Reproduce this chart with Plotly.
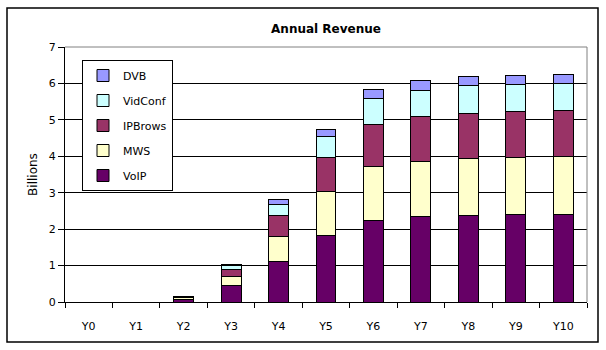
import plotly.graph_objects as go

categories = ["Y0", "Y1", "Y2", "Y3", "Y4", "Y5", "Y6", "Y7", "Y8", "Y9", "Y10"]
voip     = [0, 0, 0.08, 0.46, 1.12, 1.83, 2.24, 2.35, 2.38, 2.40, 2.41]
mws      = [0, 0, 0.03, 0.245, 0.68, 1.21, 1.48, 1.51, 1.56, 1.57, 1.58]
ipbrows  = [0, 0, 0.02, 0.195, 0.58, 0.93, 1.16, 1.24, 1.24, 1.26, 1.26]
vidconf  = [0, 0, 0.01, 0.10, 0.30, 0.58, 0.71, 0.71, 0.77, 0.75, 0.75]
dvb      = [0, 0, 0.01, 0.035, 0.14, 0.19, 0.25, 0.27, 0.25, 0.24, 0.25]
yticks = [0, 1, 2, 3, 4, 5, 6, 7]

series = [
    ("VoIP", voip, "#660066"),
    ("MWS", mws, "#FFFFCC"),
    ("IPBrows", ipbrows, "#993366"),
    ("VidConf", vidconf, "#CCFFFF"),
    ("DVB", dvb, "#9999FF"),
]

FONT = "DejaVu Sans"
fig = go.Figure()
n = len(series)
for i, (name, vals, col) in enumerate(series):
    fig.add_trace(go.Bar(
        x=categories, y=vals, name=name, legendgroup=name,
        legendrank=1000 + (n - i),
        marker=dict(color=col, line=dict(color="black", width=1)),
    ))

L, R, T, B = 65, 19, 47, 48
W, H = 606, 350
pw, ph = W - L - R, H - T - B

def px(x):
    return (x - L) / pw

def py(y):
    return (H - B - y) / ph

fig.update_layout(
    width=W, height=H,
    margin=dict(l=L, r=R, t=T, b=B),
    barmode="stack", bargap=0.58,
    plot_bgcolor="white", paper_bgcolor="white",
    font=dict(family=FONT, size=11, color="black"),
    title=dict(text="<b>Annual Revenue</b>", x=0.5, xref="paper", xanchor="center",
               y=1 - 29 / H, yref="container", yanchor="middle",
               font=dict(family=FONT, size=12, color="black")),
    showlegend=True,
    legend=dict(traceorder="grouped", x=px(82), y=py(60), xanchor="left", yanchor="top",
                bgcolor="white", bordercolor="black", borderwidth=1,
                font=dict(family=FONT, size=11), tracegroupgap=6,
                itemwidth=30),
    xaxis=dict(showline=True, linecolor="black", linewidth=1, ticks="outside",
               tickson="boundaries", ticklen=5, tickcolor="black",
               showgrid=False, fixedrange=True, ticklabelstandoff=14),
    yaxis=dict(range=[0, 7], tickvals=yticks, showline=True, linecolor="black",
               linewidth=1, ticks="outside", ticklen=6, tickcolor="black",
               showgrid=True, gridcolor="black", gridwidth=1, zeroline=False,
               title=dict(text="Billions", standoff=8, font=dict(family=FONT, size=12))),
)

# gray top/right border of plot area
fig.add_shape(type="line", xref="paper", yref="paper", x0=0, x1=1, y0=1, y1=1,
              line=dict(color="#808080", width=1), layer="above")
fig.add_shape(type="line", xref="paper", yref="paper", x0=1, x1=1, y0=0, y1=1,
              line=dict(color="#808080", width=1), layer="above")
# outer chart border
fig.add_shape(type="rect", xref="paper", yref="paper",
              x0=px(7), x1=px(598), y0=py(342), y1=py(8),
              line=dict(color="black", width=1.5), fillcolor="rgba(0,0,0,0)", layer="above")

fig.write_html("out.html")
